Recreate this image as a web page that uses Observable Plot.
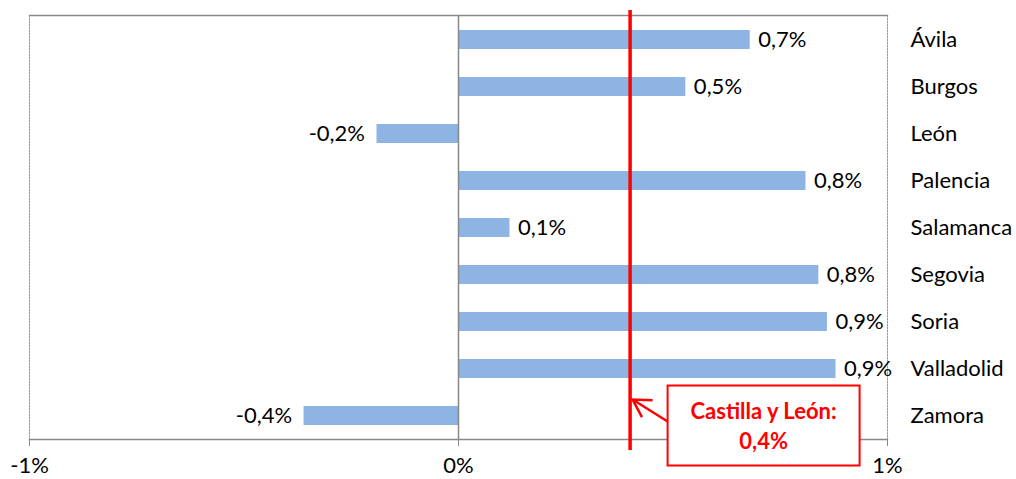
<!DOCTYPE html>
<html><head><meta charset="utf-8">
<script src="https://cdn.jsdelivr.net/npm/d3@7"></script>
<script src="https://cdn.jsdelivr.net/npm/@observablehq/plot@0.6"></script>
<style>
body{margin:0;background:#fff}
#chart svg{font-family:Lato,"Open Sans",sans-serif;overflow:visible}
</style>
</head><body><div id="chart"></div>
<script>
const provinces = ["Ávila","Burgos","León","Palencia","Salamanca","Segovia","Soria","Valladolid","Zamora"];
const changes = [0.68,0.53,-0.19,0.81,0.12,0.84,0.86,0.88,-0.36]; // % change
const regionName = "Castilla y León:";
const regionValue = 0.4;
const xTicks = [-1,0,1];

const pct = v => (v < 0 ? "-" : "") + Math.abs(v).toFixed(1).replace(".", ",") + "%";
const tickFmt = v => (v < 0 ? "-" : "") + Math.abs(v) + "%";
const data = provinces.map((p, i) => ({p, v: changes[i]}));

const plot = Plot.plot({
  width: 1016, height: 479,
  marginLeft: 29, marginRight: 129, marginTop: 15, marginBottom: 40,
  style: {fontSize: "22px", color: "#000", background: "#fff"},
  x: {domain: [-1, 1]},
  y: {domain: provinces, paddingInner: 0.6, paddingOuter: 0.3},
  marks: [
    Plot.frame({anchor: "left", stroke: "#999", strokeDasharray: "1.5,1.5"}),
    Plot.frame({anchor: "right", stroke: "#999", strokeDasharray: "1.5,1.5"}),
    Plot.frame({anchor: "top", stroke: "#888", strokeWidth: 1.3}),
    Plot.barX(data, {x: "v", y: "p", fill: "#8EB4E3"}),
    Plot.ruleX([0], {stroke: "#888", strokeWidth: 1.5}),
    Plot.frame({anchor: "bottom", stroke: "#888", strokeWidth: 1.3}),
    Plot.axisX({ticks: xTicks, tickFormat: tickFmt, tickSize: 7, tickPadding: 11, stroke: "#888", fill: "#000", fontSize: 22, label: null}),
    Plot.axisY({anchor: "right", tickSize: 0, tickPadding: 23, fill: "#000", fontSize: 22, label: null}),
    Plot.text(data.filter(d => d.v >= 0), {x: "v", y: "p", text: d => pct(d.v), textAnchor: "start", dx: 8, fill: "#000", fontSize: 22}),
    Plot.text(data.filter(d => d.v < 0), {x: "v", y: "p", text: d => pct(d.v), textAnchor: "end", dx: -12, fill: "#000", fontSize: 22}),
    Plot.ruleX([regionValue], {stroke: "#FF0000", strokeWidth: 3.5, insetTop: -5, insetBottom: -11})
  ]
});
document.getElementById("chart").appendChild(plot);

// annotation box for the regional value
const xs = plot.scale("x"), ys = plot.scale("y");
const cx = xs.apply(regionValue);
const cy = ys.apply("Zamora") + ys.bandwidth / 2;
const svg = d3.select(plot);
const g = svg.append("g");
const bx = cx + 38, by = cy - 30, bw = 192, bh = 80;
g.append("rect").attr("x", bx).attr("y", by).attr("width", bw).attr("height", bh)
  .attr("fill", "#fff").attr("stroke", "#FF0000").attr("stroke-width", 2);
const t = g.append("text").attr("text-anchor", "middle").attr("fill", "#FF0000")
  .attr("font-weight", "bold").attr("font-size", 22);
t.append("tspan").attr("x", bx + bw / 2).attr("y", by + 33).text(regionName);
t.append("tspan").attr("x", bx + bw / 2).attr("y", by + 63).text(pct(regionValue));
// arrow pointing to the line
const x0 = bx, y0 = cy + 6, x1 = cx + 3, y1 = cy - 16;
const ang = Math.atan2(y0 - y1, x0 - x1), L = 20, w = Math.PI / 6;
g.append("path")
  .attr("d", `M${x0},${y0}L${x1},${y1}M${x1 + L * Math.cos(ang - w)},${y1 + L * Math.sin(ang - w)}L${x1},${y1}L${x1 + L * Math.cos(ang + w)},${y1 + L * Math.sin(ang + w)}`)
  .attr("fill", "none").attr("stroke", "#FF0000").attr("stroke-width", 2.5);
</script>
</body></html>
